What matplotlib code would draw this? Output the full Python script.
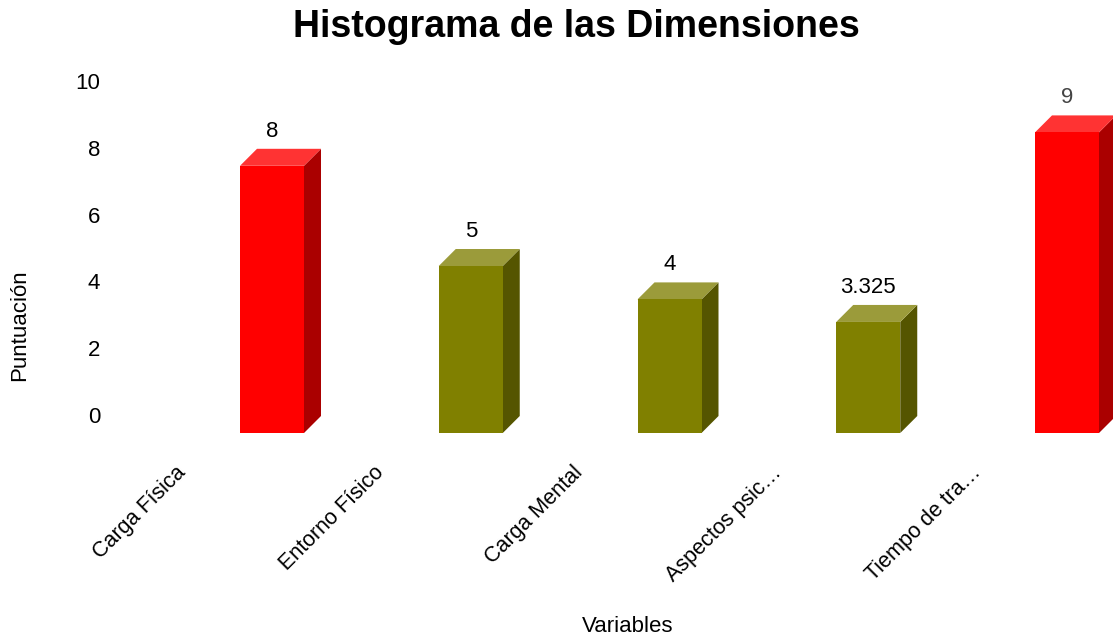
import matplotlib.pyplot as plt
from matplotlib.patches import Polygon
import matplotlib.transforms as mtransforms

plt.rcParams['font.family'] = ['Liberation Sans', 'DejaVu Sans']

# Datos
categorias = ['Carga Física', 'Entorno Físico', 'Carga Mental', 'Aspectos psic…', 'Tiempo de tra…']
valores = [8, 5, 4, 3.325, 9]
etiquetas = ['8', '5', '4', '3.325', '9']
colores_frente = ['#ff0000', '#808000', '#808000', '#808000', '#ff0000']
colores_arriba = ['#ff3333', '#9b9b3a', '#9b9b3a', '#9b9b3a', '#ff3333']
colores_lado = ['#aa0000', '#555500', '#555500', '#555500', '#aa0000']
color_etiqueta = ['black', 'black', 'black', 'black', '#444444']

fig = plt.figure(figsize=(11.13, 6.41), dpi=100)
W, H = 1113, 641

# ejes colocados en pixeles
ax = fig.add_axes([110 / W, (H - 440) / H, 1003 / W, 380 / H])
px_y = 33.4      # pixeles por unidad en y
px_x = 198.75    # pixeles por categoria
ax.set_ylim((415 - 440) / px_y, (415 - 60) / px_y)
ax.set_xlim((110 - 185) / px_x, (1113 - 185) / px_x)

# efecto 3D
prof_x = 17 / px_x
prof_y = 17 / px_y
base = -18 / px_y
desp = 55 / px_x
ancho = 64 / px_x

for i, v in enumerate(valores):
    x0 = i + desp
    x1 = x0 + ancho
    y0 = base
    y1 = base + v
    frente = [(x0, y0), (x1, y0), (x1, y1), (x0, y1)]
    lado = [(x1, y0), (x1 + prof_x, y0 + prof_y), (x1 + prof_x, y1 + prof_y), (x1, y1)]
    arriba = [(x0, y1), (x1, y1), (x1 + prof_x, y1 + prof_y), (x0 + prof_x, y1 + prof_y)]
    ax.add_patch(Polygon(lado, closed=True, facecolor=colores_lado[i], edgecolor='none'))
    ax.add_patch(Polygon(arriba, closed=True, facecolor=colores_arriba[i], edgecolor='none'))
    ax.add_patch(Polygon(frente, closed=True, facecolor=colores_frente[i], edgecolor='none'))
    ax.text((x0 + x1) / 2, y1 + prof_y + 7 / px_y, etiquetas[i], ha='center', va='bottom',
            fontsize=16, color=color_etiqueta[i])

# etiquetas de categorias
trans = mtransforms.blended_transform_factory(ax.transData, fig.transFigure)
for i, c in enumerate(categorias):
    ax.text(i - 10 / px_x, (H - 462) / H, c, transform=trans, rotation=45, rotation_mode='anchor',
            ha='right', va='top', fontsize=15.5, clip_on=False)

ax.set_yticks(range(0, 11, 2))
ax.tick_params(axis='y', length=0, labelsize=16, pad=7)
ax.set_xticks([])
for s in ax.spines.values():
    s.set_visible(False)

fig.text(576 / W, (H - 27) / H, 'Histograma de las Dimensiones', ha='center', va='center',
         fontsize=27, fontweight='bold')
fig.text(20 / W, (H - 325) / H, 'Puntuación', rotation=90, ha='center', va='center', fontsize=16)
fig.text(628 / W, (H - 627) / H, 'Variables', ha='center', va='center', fontsize=16)

fig.savefig('out.png', dpi=100)
